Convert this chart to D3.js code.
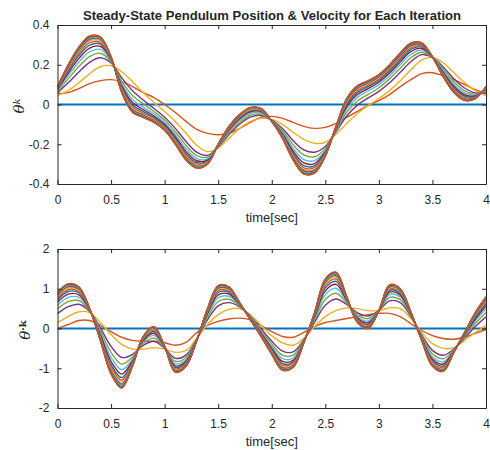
<!DOCTYPE html>
<html>
<head>
<meta charset="utf-8">
<script src="https://cdn.jsdelivr.net/npm/d3@7"></script>
<style>
    body { margin: 0; background: #fff; }
    svg text { font-family: 'Liberation Sans', Arial, sans-serif; fill: #262626; }
</style>
</head>
<body>
<div id="myChart"></div>
<script>
// sample times (sec)
const time = [0, 0.1, 0.2, 0.3, 0.4, 0.5, 0.6, 0.7, 0.8, 0.9, 1, 1.1, 1.2, 1.3, 1.4, 1.5, 1.6, 1.7, 1.8, 1.9, 2,
    2.1, 2.2, 2.3, 2.4, 2.5, 2.6, 2.7, 2.8, 2.9, 3, 3.1, 3.2, 3.3, 3.4, 3.5, 3.6, 3.7, 3.8, 3.9, 4];

const xTicks = [0, 0.5, 1, 1.5, 2, 2.5, 3, 3.5, 4];
const posTicks = [-0.4, -0.2, 0, 0.2, 0.4];
const velTicks = [-2, -1, 0, 1, 2];

// matlab default colour order
const lineColors = ['#0072BD', '#D95319', '#EDB120', '#7E2F8E', '#77AC30', '#4DBEEE', '#A2142F'];

// position, one array per iteration
const pos1 = [0,0,0,0,0,0,0,0,0,0,0,0,0,0,0,0,0,0,0,0,0,0,0,0,0,0,0,0,0,0,0,0,0,0,0,0,0,0,0,0,0];
const pos2 = [0.055,0.06,0.08,0.105,0.12,0.125,0.115,0.09,0.06,0.035,0,-0.04,-0.085,-0.125,-0.145,-0.152,-0.145,-0.12,-0.09,-0.065,-0.06,-0.07,-0.09,-0.11,-0.12,-0.115,-0.095,-0.065,-0.035,-0.005,0.02,0.05,0.09,0.125,0.155,0.16,0.145,0.125,0.1,0.075,0.055];
const pos3 = [0.045,0.07,0.11,0.155,0.19,0.195,0.165,0.115,0.06,0.01,-0.035,-0.085,-0.145,-0.205,-0.237,-0.22,-0.17,-0.12,-0.085,-0.07,-0.075,-0.1,-0.14,-0.175,-0.195,-0.19,-0.15,-0.095,-0.045,-0.005,0.03,0.07,0.12,0.175,0.225,0.235,0.21,0.16,0.11,0.07,0.045];
const pos4 = [0.059,0.109,0.164,0.212,0.235,0.209,0.134,0.069,0.023,-0.02,-0.064,-0.12,-0.186,-0.24,-0.256,-0.214,-0.152,-0.099,-0.064,-0.055,-0.078,-0.121,-0.182,-0.228,-0.24,-0.211,-0.138,-0.058,-0.003,0.033,0.066,0.109,0.162,0.216,0.251,0.237,0.189,0.13,0.083,0.058,0.059];
const pos5 = [0.065,0.129,0.191,0.241,0.258,0.215,0.118,0.045,0.004,-0.035,-0.078,-0.137,-0.206,-0.257,-0.265,-0.211,-0.143,-0.089,-0.054,-0.048,-0.08,-0.132,-0.203,-0.254,-0.263,-0.222,-0.132,-0.039,0.018,0.051,0.084,0.129,0.183,0.236,0.263,0.237,0.179,0.115,0.07,0.052,0.065];
const pos6 = [0.071,0.145,0.214,0.265,0.277,0.221,0.104,0.025,-0.013,-0.048,-0.09,-0.152,-0.223,-0.272,-0.274,-0.208,-0.135,-0.079,-0.044,-0.041,-0.081,-0.141,-0.221,-0.277,-0.282,-0.231,-0.127,-0.023,0.036,0.068,0.1,0.145,0.201,0.253,0.274,0.238,0.169,0.102,0.058,0.047,0.071];
const pos7 = [0.076,0.158,0.232,0.284,0.292,0.226,0.094,0.01,-0.025,-0.058,-0.1,-0.163,-0.237,-0.283,-0.28,-0.206,-0.129,-0.072,-0.037,-0.036,-0.082,-0.148,-0.235,-0.294,-0.297,-0.238,-0.123,-0.01,0.05,0.08,0.112,0.158,0.215,0.267,0.283,0.238,0.162,0.092,0.049,0.043,0.076];
const pos8 = [0.079,0.169,0.247,0.299,0.304,0.229,0.085,-0.003,-0.035,-0.066,-0.107,-0.172,-0.248,-0.292,-0.285,-0.205,-0.124,-0.067,-0.032,-0.032,-0.083,-0.153,-0.246,-0.308,-0.309,-0.243,-0.12,0,0.061,0.09,0.121,0.169,0.226,0.278,0.29,0.239,0.157,0.084,0.042,0.04,0.079];
const pos9 = [0.082,0.177,0.258,0.311,0.313,0.232,0.079,-0.012,-0.043,-0.072,-0.113,-0.179,-0.256,-0.299,-0.289,-0.204,-0.121,-0.063,-0.028,-0.029,-0.083,-0.157,-0.255,-0.319,-0.318,-0.247,-0.117,0.008,0.07,0.098,0.128,0.177,0.235,0.286,0.295,0.239,0.153,0.078,0.036,0.037,0.082];
const pos10 = [0.084,0.183,0.267,0.32,0.321,0.234,0.074,-0.02,-0.049,-0.077,-0.118,-0.185,-0.262,-0.305,-0.292,-0.203,-0.118,-0.059,-0.024,-0.027,-0.084,-0.161,-0.262,-0.327,-0.326,-0.251,-0.115,0.014,0.077,0.104,0.134,0.183,0.242,0.292,0.299,0.24,0.149,0.073,0.032,0.035,0.084];
const pos11 = [0.086,0.188,0.274,0.328,0.327,0.236,0.069,-0.026,-0.054,-0.081,-0.121,-0.19,-0.268,-0.31,-0.294,-0.202,-0.115,-0.056,-0.021,-0.025,-0.084,-0.164,-0.267,-0.334,-0.332,-0.254,-0.114,0.019,0.082,0.109,0.139,0.188,0.247,0.298,0.302,0.24,0.146,0.069,0.028,0.034,0.086];
const pos12 = [0.087,0.192,0.279,0.334,0.331,0.237,0.066,-0.031,-0.058,-0.084,-0.124,-0.193,-0.272,-0.313,-0.296,-0.201,-0.114,-0.054,-0.019,-0.023,-0.084,-0.166,-0.272,-0.34,-0.336,-0.256,-0.112,0.023,0.087,0.113,0.143,0.192,0.252,0.302,0.305,0.24,0.144,0.066,0.025,0.032,0.087];
const pos13 = [0.088,0.195,0.283,0.337,0.334,0.238,0.064,-0.034,-0.06,-0.086,-0.126,-0.195,-0.275,-0.315,-0.297,-0.201,-0.112,-0.053,-0.018,-0.022,-0.085,-0.167,-0.274,-0.343,-0.339,-0.257,-0.112,0.025,0.089,0.115,0.145,0.195,0.254,0.305,0.307,0.24,0.143,0.064,0.024,0.032,0.088];
const pos14 = [0.089,0.197,0.286,0.341,0.337,0.239,0.062,-0.037,-0.063,-0.088,-0.128,-0.198,-0.277,-0.318,-0.299,-0.2,-0.111,-0.051,-0.016,-0.021,-0.085,-0.169,-0.277,-0.347,-0.342,-0.259,-0.111,0.028,0.092,0.118,0.148,0.197,0.257,0.307,0.308,0.24,0.141,0.062,0.022,0.031,0.089];
const pos15 = [0.09,0.199,0.288,0.343,0.339,0.24,0.061,-0.038,-0.064,-0.089,-0.129,-0.199,-0.279,-0.319,-0.299,-0.2,-0.111,-0.051,-0.016,-0.021,-0.085,-0.169,-0.279,-0.348,-0.344,-0.259,-0.11,0.029,0.094,0.119,0.149,0.199,0.259,0.309,0.309,0.24,0.141,0.061,0.021,0.03,0.09];
const pos16 = [0.09,0.2,0.29,0.345,0.34,0.24,0.06,-0.04,-0.065,-0.09,-0.13,-0.2,-0.28,-0.32,-0.3,-0.2,-0.11,-0.05,-0.015,-0.02,-0.085,-0.17,-0.28,-0.35,-0.345,-0.26,-0.11,0.03,0.095,0.12,0.15,0.2,0.26,0.31,0.31,0.24,0.14,0.06,0.02,0.03,0.09];

// velocity, one array per iteration
const vel1 = [0,0,0,0,0,0,0,0,0,0,0,0,0,0,0,0,0,0,0,0,0,0,0,0,0,0,0,0,0,0,0,0,0,0,0,0,0,0,0,0,0];
const vel2 = [0,0.1,0.2,0.2,0.08,-0.08,-0.22,-0.3,-0.32,-0.32,-0.36,-0.42,-0.35,-0.1,0.08,0.18,0.24,0.26,0.22,0.08,-0.08,-0.2,-0.22,-0.1,0.05,0.15,0.2,0.25,0.3,0.35,0.38,0.38,0.3,0.12,-0.05,-0.18,-0.25,-0.27,-0.22,-0.12,-0.03];
const vel3 = [0.15,0.3,0.42,0.4,0.15,-0.15,-0.4,-0.52,-0.52,-0.48,-0.52,-0.6,-0.55,-0.25,0.1,0.35,0.48,0.5,0.35,0.08,-0.18,-0.36,-0.42,-0.25,0.05,0.3,0.45,0.52,0.5,0.45,0.45,0.52,0.5,0.25,-0.1,-0.38,-0.5,-0.48,-0.3,-0.1,0.08];
const vel4 = [0.375,0.549,0.609,0.43,0.015,-0.45,-0.73,-0.649,-0.424,-0.321,-0.499,-0.75,-0.67,-0.265,0.22,0.569,0.651,0.545,0.311,-0.004,-0.321,-0.567,-0.588,-0.28,0.155,0.585,0.741,0.604,0.395,0.315,0.45,0.694,0.65,0.295,-0.16,-0.551,-0.674,-0.516,-0.24,0.05,0.296];
const vel5 = [0.488,0.674,0.704,0.445,-0.053,-0.6,-0.895,-0.714,-0.376,-0.242,-0.489,-0.825,-0.73,-0.273,0.28,0.679,0.737,0.568,0.292,-0.046,-0.392,-0.671,-0.672,-0.295,0.208,0.728,0.887,0.646,0.343,0.248,0.45,0.781,0.725,0.318,-0.19,-0.637,-0.761,-0.534,-0.21,0.125,0.404];
const vel6 = [0.585,0.781,0.785,0.458,-0.111,-0.73,-1.038,-0.769,-0.334,-0.173,-0.479,-0.89,-0.782,-0.279,0.332,0.773,0.811,0.587,0.275,-0.082,-0.453,-0.76,-0.745,-0.308,0.253,0.851,1.013,0.682,0.297,0.189,0.45,0.856,0.79,0.337,-0.216,-0.711,-0.836,-0.55,-0.184,0.19,0.498];
const vel7 = [0.66,0.864,0.848,0.468,-0.156,-0.83,-1.148,-0.812,-0.302,-0.12,-0.472,-0.94,-0.822,-0.284,0.372,0.846,0.868,0.602,0.262,-0.11,-0.5,-0.829,-0.801,-0.318,0.288,0.946,1.11,0.71,0.262,0.144,0.45,0.914,0.84,0.352,-0.236,-0.768,-0.894,-0.562,-0.164,0.24,0.57];
const vel8 = [0.72,0.931,0.899,0.476,-0.192,-0.91,-1.236,-0.847,-0.277,-0.077,-0.467,-0.98,-0.854,-0.288,0.404,0.905,0.913,0.614,0.251,-0.133,-0.537,-0.884,-0.846,-0.326,0.316,1.022,1.187,0.733,0.234,0.108,0.45,0.961,0.88,0.364,-0.252,-0.813,-0.941,-0.571,-0.148,0.28,0.627];
const vel9 = [0.765,0.981,0.937,0.482,-0.219,-0.97,-1.302,-0.873,-0.258,-0.045,-0.463,-1.01,-0.878,-0.291,0.428,0.949,0.947,0.623,0.243,-0.15,-0.565,-0.926,-0.879,-0.332,0.337,1.079,1.245,0.75,0.213,0.081,0.45,0.996,0.91,0.373,-0.264,-0.847,-0.976,-0.578,-0.136,0.31,0.67];
const vel10 = [0.803,1.022,0.968,0.487,-0.242,-1.02,-1.357,-0.894,-0.242,-0.019,-0.459,-1.035,-0.898,-0.294,0.448,0.985,0.976,0.631,0.237,-0.164,-0.589,-0.96,-0.907,-0.337,0.355,1.127,1.294,0.764,0.196,0.059,0.45,1.025,0.935,0.381,-0.274,-0.876,-1.005,-0.584,-0.126,0.335,0.706];
const vel11 = [0.833,1.055,0.993,0.491,-0.26,-1.06,-1.401,-0.911,-0.229,0.002,-0.456,-1.055,-0.914,-0.296,0.464,1.014,0.999,0.637,0.232,-0.175,-0.608,-0.988,-0.93,-0.341,0.369,1.165,1.333,0.775,0.182,0.041,0.45,1.048,0.955,0.387,-0.282,-0.899,-1.028,-0.589,-0.118,0.355,0.735];
const vel12 = [0.855,1.08,1.012,0.494,-0.273,-1.09,-1.434,-0.924,-0.219,0.018,-0.454,-1.07,-0.926,-0.297,0.476,1.036,1.016,0.641,0.228,-0.183,-0.622,-1.009,-0.946,-0.344,0.379,1.193,1.362,0.783,0.171,0.027,0.45,1.065,0.97,0.391,-0.288,-0.916,-1.045,-0.593,-0.112,0.37,0.757];
const vel13 = [0.87,1.097,1.025,0.496,-0.282,-1.11,-1.456,-0.933,-0.213,0.029,-0.453,-1.08,-0.934,-0.298,0.484,1.051,1.027,0.644,0.225,-0.189,-0.631,-1.022,-0.958,-0.346,0.386,1.212,1.381,0.789,0.164,0.018,0.45,1.077,0.98,0.394,-0.292,-0.927,-1.057,-0.595,-0.108,0.38,0.771];
const vel14 = [0.885,1.113,1.037,0.498,-0.291,-1.13,-1.478,-0.941,-0.206,0.039,-0.451,-1.09,-0.942,-0.299,0.492,1.065,1.039,0.647,0.223,-0.194,-0.641,-1.036,-0.969,-0.348,0.393,1.231,1.401,0.794,0.157,0.009,0.45,1.088,0.99,0.397,-0.296,-0.939,-1.068,-0.598,-0.104,0.39,0.786];
const vel15 = [0.893,1.122,1.044,0.499,-0.296,-1.14,-1.489,-0.946,-0.203,0.045,-0.451,-1.095,-0.946,-0.3,0.496,1.073,1.044,0.649,0.221,-0.197,-0.645,-1.043,-0.974,-0.349,0.397,1.241,1.41,0.797,0.154,0.005,0.45,1.094,0.995,0.399,-0.298,-0.944,-1.074,-0.599,-0.102,0.395,0.793];
const vel16 = [0.9,1.13,1.05,0.5,-0.3,-1.15,-1.5,-0.95,-0.2,0.05,-0.45,-1.1,-0.95,-0.3,0.5,1.08,1.05,0.65,0.22,-0.2,-0.65,-1.05,-0.98,-0.35,0.4,1.25,1.42,0.8,0.15,0,0.45,1.1,1,0.4,-0.3,-0.95,-1.08,-0.6,-0.1,0.4,0.8];

const positionRuns = [pos1, pos2, pos3, pos4, pos5, pos6, pos7, pos8, pos9, pos10, pos11, pos12, pos13, pos14, pos15, pos16];
const velocityRuns = [vel1, vel2, vel3, vel4, vel5, vel6, vel7, vel8, vel9, vel10, vel11, vel12, vel13, vel14, vel15, vel16];

let width = 490, height = 450;
let left = 57.5, right = 486;

let svg = d3
    .select('#myChart')
    .append('svg')
    .attr('width', width)
    .attr('height', height);

let x = d3.scaleLinear().domain([0, 4]).range([left, right]);

let tickText = (d) => String(d);

function drawPanel(id, runs, top, bottom, yDomain, yTicks) {
    let y = d3.scaleLinear().domain(yDomain).range([bottom, top]);

    svg.append('clipPath')
        .attr('id', 'clip-' + id)
        .append('rect')
        .attr('x', left)
        .attr('y', top)
        .attr('width', right - left)
        .attr('height', bottom - top);

    let line = d3
        .line()
        .x((d, i) => x(time[i]))
        .y((d) => y(d))
        .curve(d3.curveCatmullRom.alpha(0.5));

    svg.append('g')
        .attr('clip-path', 'url(#clip-' + id + ')')
        .selectAll('path')
        .data(runs)
        .enter()
        .append('path')
        .attr('d', line)
        .attr('fill', 'none')
        .attr('stroke', (d, i) => lineColors[i % lineColors.length])
        .attr('stroke-width', (d, i) => (i === 0 ? 1.8 : 1.4));

    // box with inward ticks on all four sides
    let axes = [
        { a: d3.axisBottom(x).tickValues(xTicks).tickFormat(tickText).tickPadding(11), t: 'translate(0,' + bottom + ')' },
        { a: d3.axisTop(x).tickValues(xTicks).tickFormat(''), t: 'translate(0,' + top + ')' },
        { a: d3.axisLeft(y).tickValues(yTicks).tickFormat(tickText).tickPadding(8), t: 'translate(' + left + ',0)' },
        { a: d3.axisRight(y).tickValues(yTicks).tickFormat(''), t: 'translate(' + right + ',0)' },
    ];
    axes.forEach((ax) => {
        let g = svg.append('g')
            .attr('transform', ax.t)
            .call(ax.a.tickSizeInner(-4).tickSizeOuter(0));
        g.select('.domain').attr('stroke', '#262626');
        g.selectAll('.tick line').attr('stroke', '#262626');
        g.selectAll('.tick text')
            .style('font-size', '12px')
            .attr('fill', '#262626')
            .style('font-family', "'Liberation Sans', Arial, sans-serif");
    });

    svg.append('text')
        .attr('x', (left + right) / 2)
        .attr('y', bottom + 38)
        .style('text-anchor', 'middle')
        .style('font-size', '13px')
        .text('time[sec]');
}

drawPanel('pos', positionRuns, 25, 184, [-0.4, 0.4], posTicks);
drawPanel('vel', velocityRuns, 249, 408, [-2, 2], velTicks);

svg.append('text')
    .attr('x', 272)
    .attr('y', 19.5)
    .style('text-anchor', 'middle')
    .style('font-size', '12px')
    .style('font-weight', 'bold')
    .attr('textLength', 378)
    .attr('lengthAdjust', 'spacingAndGlyphs')
    .text('Steady-State Pendulum Position & Velocity for Each Iteration');

// y labels
let posLabel = svg.append('text')
    .attr('transform', 'translate(24,106) rotate(-90)')
    .style('text-anchor', 'middle')
    .style('font-family', "'DejaVu Serif', serif")
    .style('font-style', 'italic')
    .style('font-size', '15px');
posLabel.append('tspan').text('θ');
posLabel.append('tspan').attr('dy', '-0.45em').style('font-size', '10px').text('k');

let velLabel = svg.append('text')
    .attr('transform', 'translate(30,330) rotate(-90)')
    .style('text-anchor', 'middle')
    .style('font-family', "'DejaVu Serif', serif")
    .style('font-size', '15px');
velLabel.append('tspan').style('font-style', 'italic').text('θ');
velLabel.append('tspan').attr('dy', '-0.45em').style('font-size', '10px').style('font-weight', 'bold').text('·k');
</script>
</body>
</html>
